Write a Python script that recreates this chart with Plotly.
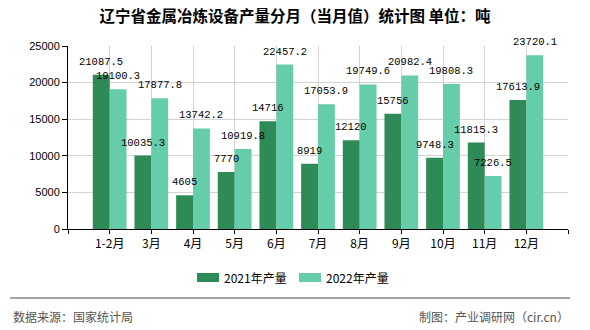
import plotly.graph_objects as go

# ---- data ----
categories = ["1-2月", "3月", "4月", "5月", "6月", "7月", "8月", "9月", "10月", "11月", "12月"]
values_2021 = [21087.5, 10035.3, 4605, 7770, 14716, 8919, 12120, 15756, 9748.3, 11815.3, 17613.9]
values_2022 = [19100.3, 17877.8, 13742.2, 10919.8, 22457.2, 17053.9, 19749.6, 20982.4, 19808.3, 7226.5, 23720.1]
series_names = ["2021年产量", "2022年产量"]
series_colors = ["#2e8b57", "#66cdaa"]
y_ticks = [0, 5000, 10000, 15000, 20000, 25000]

title_text = "辽宁省金属冶炼设备产量分月（当月值）统计图 单位：吨"
source_text = "数据来源：国家统计局"
credit_text = "制图：产业调研网（cir.cn）"

# ---- layout constants ----
W, H = 590, 330
ML, MR, MT, MB = 68, 22, 46, 101
PW, PH = W - ML - MR, H - MT - MB
BARGAP = 0.19

def px_x(x):
    return (x - ML) / PW

def px_y(y):
    return (H - MB - y) / PH

def fmt(v):
    s = repr(float(v))
    return s[:-2] if s.endswith(".0") else s

idx = list(range(len(categories)))
all_series = [values_2021, values_2022]
n_series = len(all_series)
bar_w = (1 - BARGAP) / n_series

fig = go.Figure()
for k, (name, vals, color) in enumerate(zip(series_names, all_series, series_colors)):
    fig.add_trace(go.Bar(
        x=idx, y=vals, name=name, marker=dict(color=color, line=dict(width=0)),
        showlegend=False, hoverinfo="skip",
    ))

# value labels drawn above all bars (annotation layer), positioned via data coordinates
for k, vals in enumerate(all_series):
    off = (k - (n_series - 1) / 2) * bar_w
    for i, v in zip(idx, vals):
        fig.add_annotation(x=i + off, y=v, xref="x", yref="y", text=fmt(v),
                           showarrow=False, yshift=13, yanchor="middle", xanchor="center",
                           font=dict(family="Liberation Mono, DejaVu Sans Mono, monospace",
                                     size=10.5, color="#000"))

fig.update_layout(
    width=W, height=H,
    margin=dict(l=ML, r=MR, t=MT, b=MB, pad=0),
    paper_bgcolor="white", plot_bgcolor="white",
    barmode="group", bargap=BARGAP, bargroupgap=0,
    font=dict(family="Noto Sans CJK SC, sans-serif", size=12, color="#000"),
    title=dict(text=title_text, x=0.5, xref="container", xanchor="center",
               y=1 - 17 / H, yref="container", yanchor="middle",
               font=dict(family="Noto Sans CJK SC", size=15.5, color="#000", weight="bold")),
    showlegend=False,
    xaxis=dict(
        range=[-1, len(categories)], tickmode="array",
        tickvals=list(range(-1, len(categories) + 1)),
        ticktext=[""] + categories + [""],
        showgrid=True, gridcolor="#d3d3d3", gridwidth=1,
        showline=True, linecolor="#000", linewidth=1,
        ticks="outside", ticklen=4, tickcolor="#000",
        tickfont=dict(family="Noto Sans CJK SC", size=12, color="#000"),
        zeroline=False, fixedrange=True,
    ),
    yaxis=dict(
        range=[0, 25000], tickmode="array", tickvals=y_ticks,
        ticktext=[str(t) for t in y_ticks],
        showgrid=True, gridcolor="#d3d3d3", gridwidth=1,
        showline=True, linecolor="#000", linewidth=1,
        ticks="outside", ticklen=5, tickcolor="#000",
        tickfont=dict(family="Liberation Sans, Arial", size=11, color="#000"),
        zeroline=False, fixedrange=True,
    ),
)

# legend (swatch rectangles + labels)
legend_items = [(series_names[0], series_colors[0], 197), (series_names[1], series_colors[1], 299)]
for name, color, lx in legend_items:
    fig.add_shape(type="rect", xref="paper", yref="paper",
                  x0=px_x(lx), x1=px_x(lx + 22), y0=px_y(282), y1=px_y(273),
                  line=dict(width=0), fillcolor=color)
    fig.add_annotation(text=name, xref="paper", yref="paper",
                       x=px_x(lx + 25), y=px_y(277.5), xanchor="left", yanchor="middle",
                       showarrow=False, font=dict(family="Noto Sans CJK SC", size=12, color="#000"))

# footer separator line
fig.add_shape(type="line", xref="paper", yref="paper",
              x0=px_x(10), x1=px_x(570), y0=px_y(298), y1=px_y(298),
              line=dict(color="#888888", width=1.5))

fig.add_annotation(text=source_text, xref="paper", yref="paper",
                   x=px_x(11), y=px_y(316), xanchor="left", yanchor="middle",
                   showarrow=False, font=dict(family="Noto Sans CJK SC", size=12, color="#555"))
fig.add_annotation(text=credit_text, xref="paper", yref="paper",
                   x=px_x(571), y=px_y(316), xanchor="right", yanchor="middle",
                   showarrow=False, font=dict(family="Noto Sans CJK SC", size=12, color="#555"))

fig.write_html("out.html", include_plotlyjs=True, config={"displayModeBar": False})
